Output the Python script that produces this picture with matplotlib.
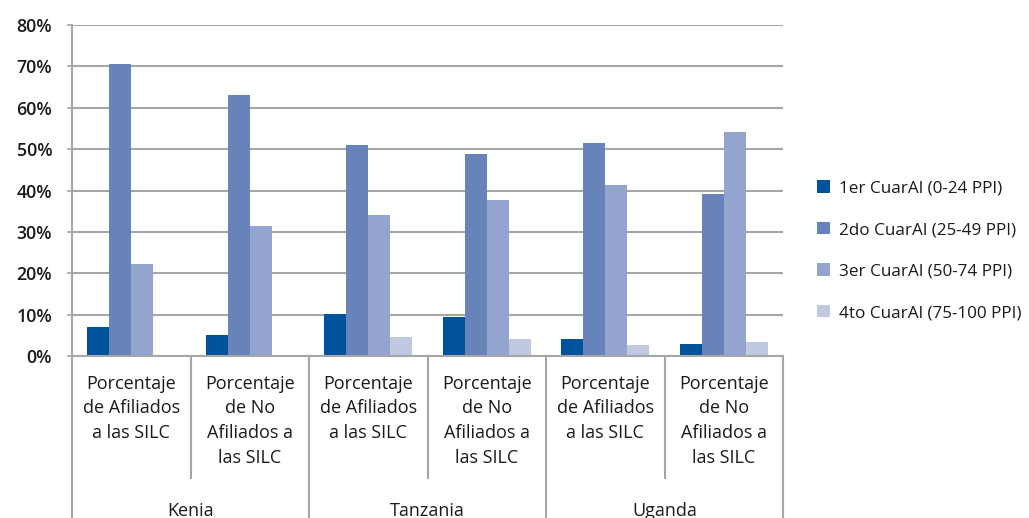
import numpy as np
import matplotlib.pyplot as plt
from matplotlib.lines import Line2D

plt.rcParams['font.family'] = ['Open Sans', 'DejaVu Sans']

countries = ["Kenia", "Tanzania", "Uganda"]
groups = ["Porcentaje\nde Afiliados\na las SILC", "Porcentaje\nde No\nAfiliados a\nlas SILC"] * 3
series = ["1er CuarAl (0-24 PPI)", "2do CuarAl (25-49 PPI)",
          "3er CuarAl (50-74 PPI)", "4to CuarAl (75-100 PPI)"]
q1 = [6.9, 5.0, 10.1, 9.4, 4.0, 2.8]
q2 = [70.5, 63.2, 50.9, 48.8, 51.4, 39.1]
q3 = [22.2, 31.3, 34.0, 37.6, 41.3, 54.1]
q4 = [0.2, 0.0, 4.5, 4.0, 2.6, 3.3]
colors = ["#00529B", "#6882BA", "#93A4CE", "#C1C8E2"]

fig = plt.figure(figsize=(10.29, 5.18), dpi=100)
ax = fig.add_axes([72/1029, 1-356/518, (783-72)/1029, (356-25)/518])

x = np.arange(len(groups))
w = 0.186
for i, vals in enumerate([q1, q2, q3, q4]):
    ax.bar(x + (i - 1.5) * w, vals, w, color=colors[i], label=series[i], zorder=3)

grid_c = "#A6A6A6"
ax.set_xlim(-0.5, len(groups) - 0.5)
ax.set_ylim(0, 80)
ax.set_yticks(range(0, 81, 10))
ax.set_yticklabels([f"{v}%" for v in range(0, 81, 10)], fontsize=12.8, fontweight='semibold', color='#1a1a1a')
ax.tick_params(axis='y', length=3.8, color=grid_c, width=1.2, pad=10.5)
ax.set_xticks([])
ax.yaxis.grid(True, color=grid_c, linewidth=1.5, zorder=0)
for s in ['top', 'right']:
    ax.spines[s].set_visible(False)
ax.spines['left'].set_color(grid_c)
ax.spines['left'].set_linewidth(1.5)
ax.spines['bottom'].set_color(grid_c)
ax.spines['bottom'].set_linewidth(1.5)
ax.spines['bottom'].set_zorder(4)

trans = ax.get_xaxis_transform()
# hierarchical category axis
for b in np.arange(-0.5, len(groups), 1.0):
    is_outer = int(round(b + 0.5)) % 2 == 0
    y_end = -0.49 if is_outer else -0.369
    ax.add_line(Line2D([b, b], [0, y_end], transform=trans, color=grid_c,
                       linewidth=1.5, clip_on=False))
for xi, g in zip(x, groups):
    ax.text(xi, -0.056, g, transform=trans, ha='center', va='top', fontsize=13,
            linespacing=1.49, color='#1a1a1a')
for ci, c in enumerate(countries):
    ax.text(2 * ci + 0.5, -0.468, c, transform=trans, ha='center', va='center',
            fontsize=13, color='#1a1a1a')

leg = ax.legend(loc='center left', bbox_to_anchor=(1.026, 0.318), frameon=False,
                fontsize=12.3, handlelength=0.75, handleheight=0.75,
                handletextpad=0.55, labelspacing=1.48)
for t in leg.get_texts():
    t.set_color('#1a1a1a')

fig.savefig("out.png", dpi=100)
